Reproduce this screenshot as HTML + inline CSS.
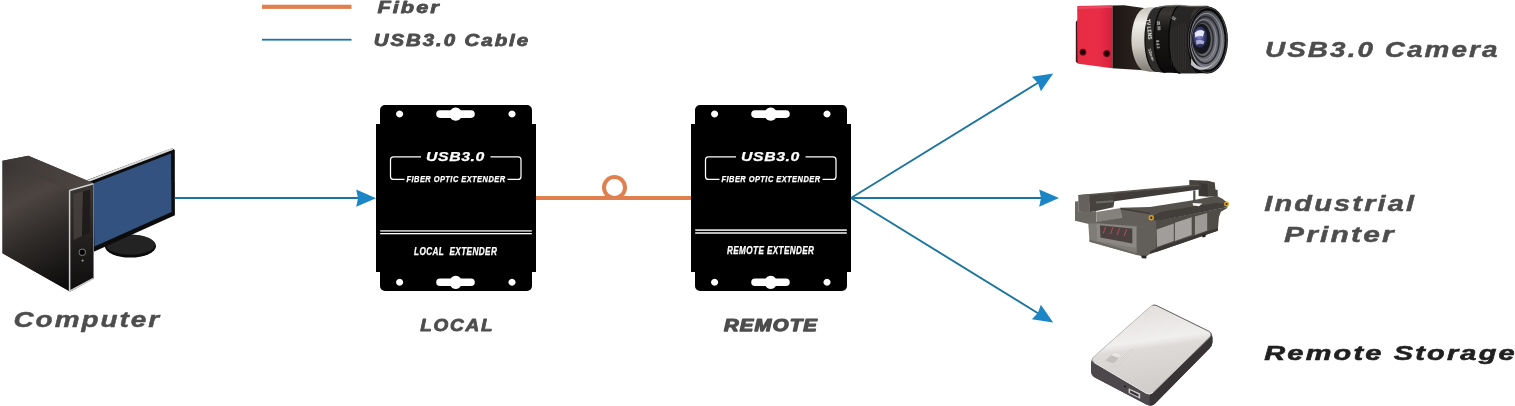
<!DOCTYPE html>
<html lang="en">
<head>
<meta charset="utf-8">
<title>USB3.0 Fiber Optic Extender Application Diagram</title>
<style>
html,body{margin:0;padding:0;background:#fff;overflow:hidden}
body{width:1515px;height:406px;position:relative;font-family:"Liberation Sans",sans-serif}
svg{display:block;position:absolute;left:0;top:0}
text{font-family:"Liberation Sans",sans-serif;font-style:italic;font-weight:700}
text{filter:url(#gs)}
.lbl,.blk{letter-spacing:1.6px}
.lbl{fill:#4d4d4d;stroke:#4d4d4d;stroke-width:.45px;stroke-linejoin:round}
.wt{letter-spacing:.5px;fill:#fff;stroke:#fff;stroke-width:.25px}
</style>
</head>
<body>
<svg width="1515" height="406" viewBox="0 0 1515 406">
<defs>
  <filter id="gs" x="-10%" y="-50%" width="120%" height="200%"><feColorMatrix type="saturate" values="0"/></filter>
  <linearGradient id="gSide" gradientUnits="userSpaceOnUse" x1="5" y1="165" x2="66" y2="285">
    <stop offset="0" stop-color="#3a3533"/><stop offset=".3" stop-color="#4c4542"/><stop offset=".58" stop-color="#302c2a"/><stop offset="1" stop-color="#0d0c0c"/>
  </linearGradient>
  <linearGradient id="gTop" gradientUnits="userSpaceOnUse" x1="10" y1="158" x2="85" y2="188">
    <stop offset="0" stop-color="#3d3836"/><stop offset="1" stop-color="#4d4643"/>
  </linearGradient>
  <linearGradient id="gFront" x1="0" y1="0" x2="0" y2="1">
    <stop offset="0" stop-color="#3a3533"/><stop offset="1" stop-color="#0e0d0d"/>
  </linearGradient>
  <g id="extender">
    <!-- flanges -->
    <path fill="#000" fill-rule="evenodd" d="M385 105H527a5 5 0 0 1 5 5V286a5 5 0 0 1-5 5H385a5 5 0 0 1-5-5V110a5 5 0 0 1 5-5Z
      M399.6 110.6a3.5 3.5 0 1 0 .01 0Z M512 110.6a3.5 3.5 0 1 0 .01 0Z
      M440 110.3H450.6a6 6 0 0 1 10.2 0H471a3.8 3.8 0 0 1 0 7.6H460.8a6 6 0 0 1-10.2 0H440a3.8 3.8 0 0 1 0-7.6Z
      M399.6 278.8a3.5 3.5 0 1 0 .01 0Z M512 278.8a3.5 3.5 0 1 0 .01 0Z
      M440 278.5H450.6a6 6 0 0 1 10.2 0H471a3.8 3.8 0 0 1 0 7.6H460.8a6 6 0 0 1-10.2 0H440a3.8 3.8 0 0 1 0-7.6Z"/>
    <rect x="376" y="124" width="160" height="148" fill="#000"/>
    <!-- label frame -->
    <path fill="none" stroke="#fff" stroke-width="1.25" d="M421 156.8H393.5a3 3 0 0 0-3 3V176.4a3 3 0 0 0 3 3H404.5M490.5 156.8H518a3 3 0 0 1 3 3V176.4a3 3 0 0 1-3 3H507.5"/>
    <text class="wt" x="426" y="161.3" font-size="13" textLength="59" lengthAdjust="spacingAndGlyphs">USB3.0</text>
    <text class="wt" x="406.5" y="181.7" font-size="8.2" textLength="99" lengthAdjust="spacingAndGlyphs">FIBER OPTIC EXTENDER</text>
  </g>
</defs>
<rect width="1515" height="406" fill="#fff"/>

<!-- legend -->
<rect x="262" y="4.7" width="89.5" height="4.2" fill="#e0804f"/>
<rect x="262" y="38.8" width="89.5" height="1.8" fill="#1a759f"/>
<text class="lbl" x="377.5" y="13" font-size="17" textLength="63.2" lengthAdjust="spacingAndGlyphs" style="stroke-width:.8px">Fiber</text>
<text class="lbl" x="373.8" y="45.8" font-size="17" textLength="156.2" lengthAdjust="spacingAndGlyphs" style="stroke-width:.8px">USB3.0 Cable</text>

<!-- computer -->
<g id="computer">
  <ellipse cx="130.4" cy="246.2" rx="25.6" ry="11.4" fill="#0b0b0b"/>
  <ellipse cx="130.4" cy="244.6" rx="24.6" ry="10.2" fill="#232323"/>
  <path d="M84 181.2L172 148.2 174.8 150 174.9 215.2 94.4 251.4 84 251Z" fill="#0c0c0d"/>
  <path d="M86.5 180.4L172 147.9 173.3 149.8 87 182.6Z" fill="#d9d9d9"/>
  <path d="M93.6 183.3L171 153.6 171.5 212 94.4 246.6Z" fill="#33527f"/>
  <!-- tower -->
  <path d="M2.5 160.7L28.3 155.7 93.6 183.3V278.4L70.4 291.6 2.5 253.3Z" fill="#3a3533"/>
  <path d="M2.5 160.7L28.3 155.7 93.6 183.3 69.7 190.2Z" fill="url(#gTop)"/>
  <path d="M2.5 160.7L69.7 190.2V291.6L2.5 253.3Z" fill="url(#gSide)"/>
  <path d="M69.7 190.2L93.6 183.3V278.4L70.4 291.6Z" fill="url(#gFront)"/>
  <path d="M73.5 194L83 191.5 82 236 73.5 240Z" fill="#4a4441" opacity=".75"/>
  <path d="M83 191.5L90 189.5 90 233 82 236Z" fill="#1b1918" opacity=".8"/>
  <path d="M69.6 190.5L93.4 183.7M69.6 190.2V291.2L93.4 278.4" stroke="#cfcfcf" stroke-width="1.5" fill="none"/>
  <path d="M93.5 184V278" stroke="#8d8d8d" stroke-width=".8" fill="none"/>
  <circle cx="82.3" cy="252.3" r="3.3" fill="#050505" stroke="#8a8a8a" stroke-width=".9"/>
  <circle cx="82.6" cy="260.6" r="1.1" fill="#9a9a9a"/>
</g>
<text class="lbl" x="13.5" y="327" font-size="22.7" textLength="147.5" lengthAdjust="spacingAndGlyphs">Computer</text>

<!-- cable computer -> local -->
<line x1="174.6" y1="198" x2="360" y2="198" stroke="#1c759d" stroke-width="1.9"/>
<path transform="translate(376 198.2)" d="M0 0L-19.8-8.6-18 0-19.8 8.6Z" fill="#1b86c6"/>

<!-- fiber -->
<rect x="536" y="196" width="155" height="4" fill="#e0804f"/>
<circle cx="614.5" cy="187.6" r="10.5" fill="none" stroke="#e0804f" stroke-width="4"/>

<!-- local extender -->
<use href="#extender"/>
<rect x="380.2" y="230" width="151.6" height="1.8" fill="#b5b5b5"/>
<rect x="380.2" y="233" width="151.6" height="1.3" fill="#fff"/>
<text class="wt" x="414" y="254.5" font-size="10" textLength="83.3" lengthAdjust="spacingAndGlyphs" xml:space="preserve">LOCAL  EXTENDER</text>
<text class="lbl" x="420.2" y="330.9" font-size="17" textLength="74.2" lengthAdjust="spacingAndGlyphs" style="stroke-width:.8px">LOCAL</text>

<!-- remote extender -->
<use href="#extender" x="315"/>
<rect x="695.2" y="229.2" width="151.6" height="1.8" fill="#d0d0d0"/>
<rect x="695.2" y="232.2" width="151.6" height="1.6" fill="#e6e6e6"/>
<text class="wt" x="727" y="254.2" font-size="10" textLength="87.4" lengthAdjust="spacingAndGlyphs">REMOTE EXTENDER</text>
<text class="lbl" x="724" y="331.2" font-size="16.8" textLength="94" lengthAdjust="spacingAndGlyphs" style="stroke-width:1.25px;letter-spacing:1px">REMOTE</text>

<!-- cables remote -> devices -->
<g stroke="#1c759d" stroke-width="1.9" fill="none">
  <line x1="851" y1="198" x2="1040" y2="81.5"/>
  <line x1="851" y1="198" x2="1042" y2="198"/>
  <line x1="851" y1="198" x2="1040" y2="314.5"/>
</g>
<g fill="#1b86c6">
  <path transform="translate(1053.2 73.6) rotate(-31.66)" d="M0 0L-19.8-8.6-18 0-19.8 8.6Z"/>
  <path transform="translate(1059 198.1)" d="M0 0L-19.8-8.6-18 0-19.8 8.6Z"/>
  <path transform="translate(1053.2 322.4) rotate(31.66)" d="M0 0L-19.8-8.6-18 0-19.8 8.6Z"/>
</g>


<!-- USB3.0 camera -->
<defs>
  <linearGradient id="camRed" x1="0" y1="0" x2="1" y2="0">
    <stop offset="0" stop-color="#e62c43"/><stop offset=".6" stop-color="#ea2d47"/><stop offset="1" stop-color="#d5203a"/>
  </linearGradient>
  <linearGradient id="camDark" x1="0" y1="0" x2="1" y2="0">
    <stop offset="0" stop-color="#1d1512"/><stop offset="1" stop-color="#2c2520"/>
  </linearGradient>
  <linearGradient id="camSilver" x1="0" y1="0" x2="0" y2="1">
    <stop offset="0" stop-color="#c9c5bd"/><stop offset=".25" stop-color="#f0eee9"/><stop offset=".6" stop-color="#cfcbc2"/><stop offset="1" stop-color="#7d7871"/>
  </linearGradient>
  <linearGradient id="camBarrel" x1="0" y1="0" x2="0" y2="1">
    <stop offset="0" stop-color="#2e2b28"/><stop offset=".12" stop-color="#3a3734"/><stop offset=".35" stop-color="#1a1816"/><stop offset="1" stop-color="#0b0a0a"/>
  </linearGradient>
  <linearGradient id="camHood" x1="0" y1="0" x2="1" y2="1"><stop offset="0" stop-color="#38383d"/><stop offset=".5" stop-color="#5d5e66"/><stop offset="1" stop-color="#888991"/></linearGradient>
  <radialGradient id="camGlass" cx=".45" cy=".45" r=".6">
    <stop offset="0" stop-color="#8f92d6"/><stop offset=".45" stop-color="#4a4c8c"/><stop offset="1" stop-color="#15152c"/>
  </radialGradient>
</defs>
<g id="camera" transform="translate(1065 0) scale(.197)">
  <path d="M240 28L300 27 400 40V356L240 346Z" fill="url(#camDark)"/>
  <path d="M62 34Q62 30 68 30L240 27V346L68 323Q64 322 64 318Z" fill="url(#camRed)"/>
  <path d="M64 34L240 28V40L64 46Z" fill="#f0607a" opacity=".55"/>
  <path d="M55 112L63 100 65 322 55 314Z" fill="#3a1418"/>
  <circle cx="91" cy="265" r="17" fill="#5a0f18"/><circle cx="91" cy="265" r="11" fill="#1a0508"/>
  <circle cx="212" cy="272" r="18" fill="#5a0f18"/><circle cx="212" cy="272" r="12" fill="#1a0508"/>
  <!-- silver mount ring -->
  <path d="M400 42Q440 34 470 40L470 366Q430 366 396 358A78 162 0 0 1 400 42Z" fill="url(#camSilver)"/>
  <!-- barrel -->
  <path d="M458 38C500 28 580 24 640 32L722 30A104 172 0 0 1 722 372L600 372C540 371 490 368 458 363A60 163 0 0 1 458 38Z" fill="url(#camBarrel)"/>
  <path d="M470 37A60 164 0 0 0 470 365L512 368A60 168 0 0 1 512 32Z" fill="#2e2c2a"/>
  <path d="M512 32A60 168 0 0 0 512 368" fill="none" stroke="#040404" stroke-width="6"/>
  <path d="M585 30A58 171 0 0 0 585 372L680 372A58 170 0 0 1 680 32Z" fill="#282625"/>
  <path d="M585 30A58 171 0 0 0 585 372" fill="none" stroke="#040404" stroke-width="6"/>
  <path d="M462 40C505 29 580 25 640 33L722 31" fill="none" stroke="#6a6764" stroke-width="7" opacity=".75"/>
  <g fill="none" stroke="#3c3a38" stroke-width="3" opacity=".9">
    <path d="M540 150V330M552 140V340M564 132V346M576 126V350M588 122V354M600 120V356M612 120V356"/>
  </g>
  <!-- front element -->
  <ellipse cx="724" cy="203" rx="103" ry="170" fill="#0c0c0c"/>
  <ellipse cx="724" cy="203" rx="98" ry="165" fill="none" stroke="#47474a" stroke-width="5"/>
  <ellipse cx="722" cy="204" rx="88" ry="150" fill="url(#camHood)"/>
  <ellipse cx="718" cy="204" rx="80" ry="136" fill="none" stroke="#a3a4ab" stroke-width="5" opacity=".85"/>
  <ellipse cx="712" cy="203" rx="70" ry="119" fill="none" stroke="#2a2a2e" stroke-width="7"/>
  <ellipse cx="706" cy="202" rx="61" ry="103" fill="none" stroke="#9a9ba3" stroke-width="5" opacity=".85"/>
  <ellipse cx="700" cy="200" rx="52" ry="88" fill="none" stroke="#2a2a2e" stroke-width="7"/>
  <ellipse cx="694" cy="198" rx="46" ry="76" fill="#15151c"/>
  <path d="M640 296A80 120 0 0 0 770 290A90 130 0 0 1 640 330Z" fill="#d4d5db" opacity=".9"/>
  <ellipse cx="686" cy="190" rx="37" ry="55" fill="url(#camGlass)"/>
  <path d="M658 168Q680 142 708 160L700 186Q680 174 662 192Z" fill="#f2f4ff" opacity=".92"/>
  <path d="M664 206Q686 198 708 210L702 226Q684 218 668 228Z" fill="#d5d6f8" opacity=".7"/>
  <text transform="translate(412 98) rotate(84)" font-size="24" textLength="104" lengthAdjust="spacingAndGlyphs" style="font-style:normal" fill="#f2f2f2">TV LENS</text>
  <text transform="translate(420 250) rotate(70)" font-size="22" style="font-style:normal" fill="#e4e4e4">12mm</text>
  <text transform="translate(466 108) rotate(84)" font-size="19" style="font-style:normal" fill="#e0e0e0">25 50</text>
  <text transform="translate(462 205) rotate(84)" font-size="19" style="font-style:normal" fill="#e0e0e0">8 4 2</text>
  <text transform="translate(538 92) rotate(35)" font-size="20" style="font-style:normal" fill="#e0e0e0">12</text>
</g>

<!-- industrial printer -->
<g id="printer">
  <path d="M1120.4 207.7 1150.0 206.9 1189.9 200.7 1216.5 195.8 1222.0 198.5 1227.6 202.7 1226.5 205.5 1216.5 204.0 1161.1 213.2 1151.1 218.4 1150.0 214.0 1121.0 209.6Z" fill="#55514d"/>
  <path d="M1151.1 217.1 1161.1 211.8 1216.5 202.7 1226.5 204.0 1227.6 207.1 1212.0 210.2 1161.1 220.4 1151.1 223.8Z" fill="#423e3b"/>
  <path d="M1192.7 203.1 1202.3 203.6 1199.0 206.2 1193.0 205.6Z" fill="#f4f4f4"/>
  <path d="M1189.3 180.0 1207.6 180.8 1214.8 182.5 1215.4 189.4 1217.6 190.0 1217.8 196.3 1207.6 196.7 1198.8 196.1 1198.8 189.6 1189.3 186.1Z" fill="#47433f"/>
  <path d="M1198.8 183.3 1207.6 183.9 1207.6 196.1 1198.8 195.6Z" fill="#3a3633"/>
  <path d="M1193.2 190.5 1195.4 190.5 1195.4 201.1 1193.2 201.1Z" fill="#524e4a"/>
  <path d="M1078.3 195.0 1089.4 193.9 1189.3 185.0 1201.0 184.8 1201.0 186.1 1089.4 196.0 1078.3 196.1Z" fill="#5a5551"/>
  <path d="M1089.4 195.5 1201.0 185.6 1201.0 189.2 1114.3 201.2 1089.4 202.7Z" fill="#403c39"/>
  <path d="M1078.3 195.2 1089.5 194.1 1089.5 212.3 1078.3 211.7Z" fill="#66615d"/>
  <path d="M1089.4 195.5 1113.4 193.9 1114.3 201.2 1113.4 207.2 1096.1 211.1 1089.4 212.3Z" fill="#46423e"/>
  <path d="M1096.1 201.6 1113.4 200.3 1113.4 202.3 1096.1 203.6Z" fill="#6d6965"/>
  <path d="M1075.0 201.6 1078.4 201.2 1078.4 211.6 1089.5 212.1 1096.1 211.0 1096.4 222.2 1088.8 224.0 1075.0 220.7Z" fill="#6b6763"/>
  <path d="M1096.1 212.1 1121.0 208.0 1121.6 218.2 1096.6 222.2Z" fill="#85817d"/>
  <path d="M1088.3 223.6 1096.1 222.1 1121.6 218.0 1136.9 221.6 1136.9 255.1 1089.5 241.8Z" fill="#7f7b77"/>
  <path d="M1088.3 223.6 1096.1 222.1 1121.6 218.0 1120.7 208.7 1150.0 213.6 1151.1 218.4 1136.9 226.1 1096.6 223.2Z" fill="#625e5a"/>
  <path d="M1120.4 207.7 1150.0 212.7 1151.1 217.1 1151.1 218.4 1150.0 214.3 1120.7 209.6Z" fill="#403c39"/>
  <path d="M1096.6 223.4 1136.0 227.4 1136.0 248.2 1097.0 241.1Z" fill="#8c8884"/>
  <path d="M1099.9 225.2 1132.3 228.5 1132.3 243.4 1100.5 237.4Z" fill="#4b4240"/>
  <path d="M1089.5 239.6 1136.9 252.9 1136.9 255.1 1089.5 241.8Z" fill="#6c6864"/>
  <path d="M1136.5 221.6 1151.1 218.4 1156.9 221.6 1156.9 248.2 1150.0 254.0 1145.6 256.7 1136.5 255.1Z" fill="#625e5a"/>
  <path d="M1156.1 219.4 1161.1 219.9 1212.0 210.0 1227.6 206.9 1226.5 208.4 1220.9 211.7 1218.9 217.2 1217.8 230.7 1209.8 233.6 1156.1 252.1Z" fill="#4f4b47"/>
  <path d="M1156.6 229.4 1173.8 223.4 1173.8 241.1 1157.1 247.1Z" fill="#a19d9a"/>
  <path d="M1174.9 222.8 1191.7 217.2 1191.7 234.9 1174.9 241.1Z" fill="#a6a29f"/>
  <path d="M1194.9 216.6 1207.2 213.0 1207.2 230.5 1194.9 234.9Z" fill="#9d9996"/>
  <path d="M1156.1 248.2 1209.8 230.5 1217.8 227.9 1217.8 230.7 1209.8 233.6 1156.1 252.1 1150.0 254.0 1150.0 251.6Z" fill="#3a3734"/>
  <path d="M1201.9 235.2 1205.6 234.1 1205.6 236.7 1202.5 237.4Z" fill="#242221"/>
  <path d="M1140.9 255.6 1146.5 255.8 1146.2 258.4 1142.0 258.2Z" fill="#2a2827"/>
  <circle cx="1151.3" cy="217.8" r="2.7" fill="#dba31d"/>
  <circle cx="1151.3" cy="217.8" r="1.2" fill="#3a2f10"/>
  <circle cx="1226.5" cy="204.0" r="2.5" fill="#dba31d"/>
  <circle cx="1226.5" cy="204.0" r="1.1" fill="#3a2f10"/>
  <path d="M1105.7 226.6L1103.2 233.5M1112.9 227.4L1110.4 234.3M1119.5 228.2L1117.1 235.1M1126.7 229.0L1124.3 235.8" stroke="#d24a63" stroke-width=".8" fill="none"/>
</g>

<!-- remote storage drive -->
<defs>
  <linearGradient id="hdTop" gradientUnits="userSpaceOnUse" x1="290" y1="40" x2="335" y2="360">
    <stop offset="0" stop-color="#e2dfdd"/><stop offset=".38" stop-color="#f1efee"/><stop offset=".47" stop-color="#dedad8"/><stop offset="1" stop-color="#cfcbc9"/>
  </linearGradient>
</defs>
<g id="drive" transform="translate(1070 296) scale(.2711)">
  <path d="M299 37Q311 30 323 37L512 130Q526 138 525 156V172Q524 184 514 194L312 398Q298 408 282 400L90 300Q78 292 78 278V244Q78 232 88 224Z" fill="#423d3f"/>
  <path d="M78 250Q78 238 92 248L280 358Q294 366 306 356L525 150V172Q524 184 514 194L312 398Q298 408 282 400L90 300Q78 292 78 278Z" fill="#4d484b"/>
  <path d="M294 364L525 150V172Q524 184 514 194L312 398Q302 405 294 404Z" fill="#383335"/>
  <path d="M299 37Q311 30 323 37L512 130Q526 138 516 150L306 356Q294 366 280 358L90 246Q76 238 88 224Z" fill="url(#hdTop)" stroke="#c4bfbd" stroke-width="3"/>
  <path d="M305 34Q312 31 323 37L512 130Q524 137 520 146" fill="none" stroke="#5a5557" stroke-width="3"/>
  <path d="M90 246L280 358Q294 366 306 356" fill="none" stroke="#f3f2f1" stroke-width="3"/>
  <path d="M163.7 207.2L190.2 217.4 159.6 250.1 130.9 237.9Z" fill="#c4c0be"/>
  <path d="M163.7 207.2L190.2 217.4 180 228 152 219Z" fill="#e9e7e6"/>
  <path d="M170 256L229 201" stroke="#bdb9b7" stroke-width="7" stroke-linecap="round" fill="none"/>
  <path d="M170 256L229 201" stroke="#ebe9e8" stroke-width="4" stroke-linecap="round" fill="none"/>
  <path d="M216 340L259 360V379L216 358Z" fill="#cbc7c8"/>
  <path d="M222 348L253 363V372L222 357Z" fill="#343032"/>
  <circle cx="203" cy="334" r="3.6" fill="#1c1a1b"/>
</g>

<!-- right labels -->
<text class="lbl" x="1265" y="56.7" font-size="21.6" textLength="234.5" lengthAdjust="spacingAndGlyphs">USB3.0 Camera</text>
<text class="lbl" x="1264.3" y="210.5" font-size="21.4" textLength="152" lengthAdjust="spacingAndGlyphs">Industrial</text>
<text class="lbl" x="1284" y="241.8" font-size="21.4" textLength="112" lengthAdjust="spacingAndGlyphs">Printer</text>
<text class="blk" x="1264.3" y="359.7" font-size="20.8" textLength="252.5" lengthAdjust="spacingAndGlyphs" fill="#231f1d" stroke="#231f1d" stroke-width=".6">Remote Storage</text>
</svg>
</body>
</html>
